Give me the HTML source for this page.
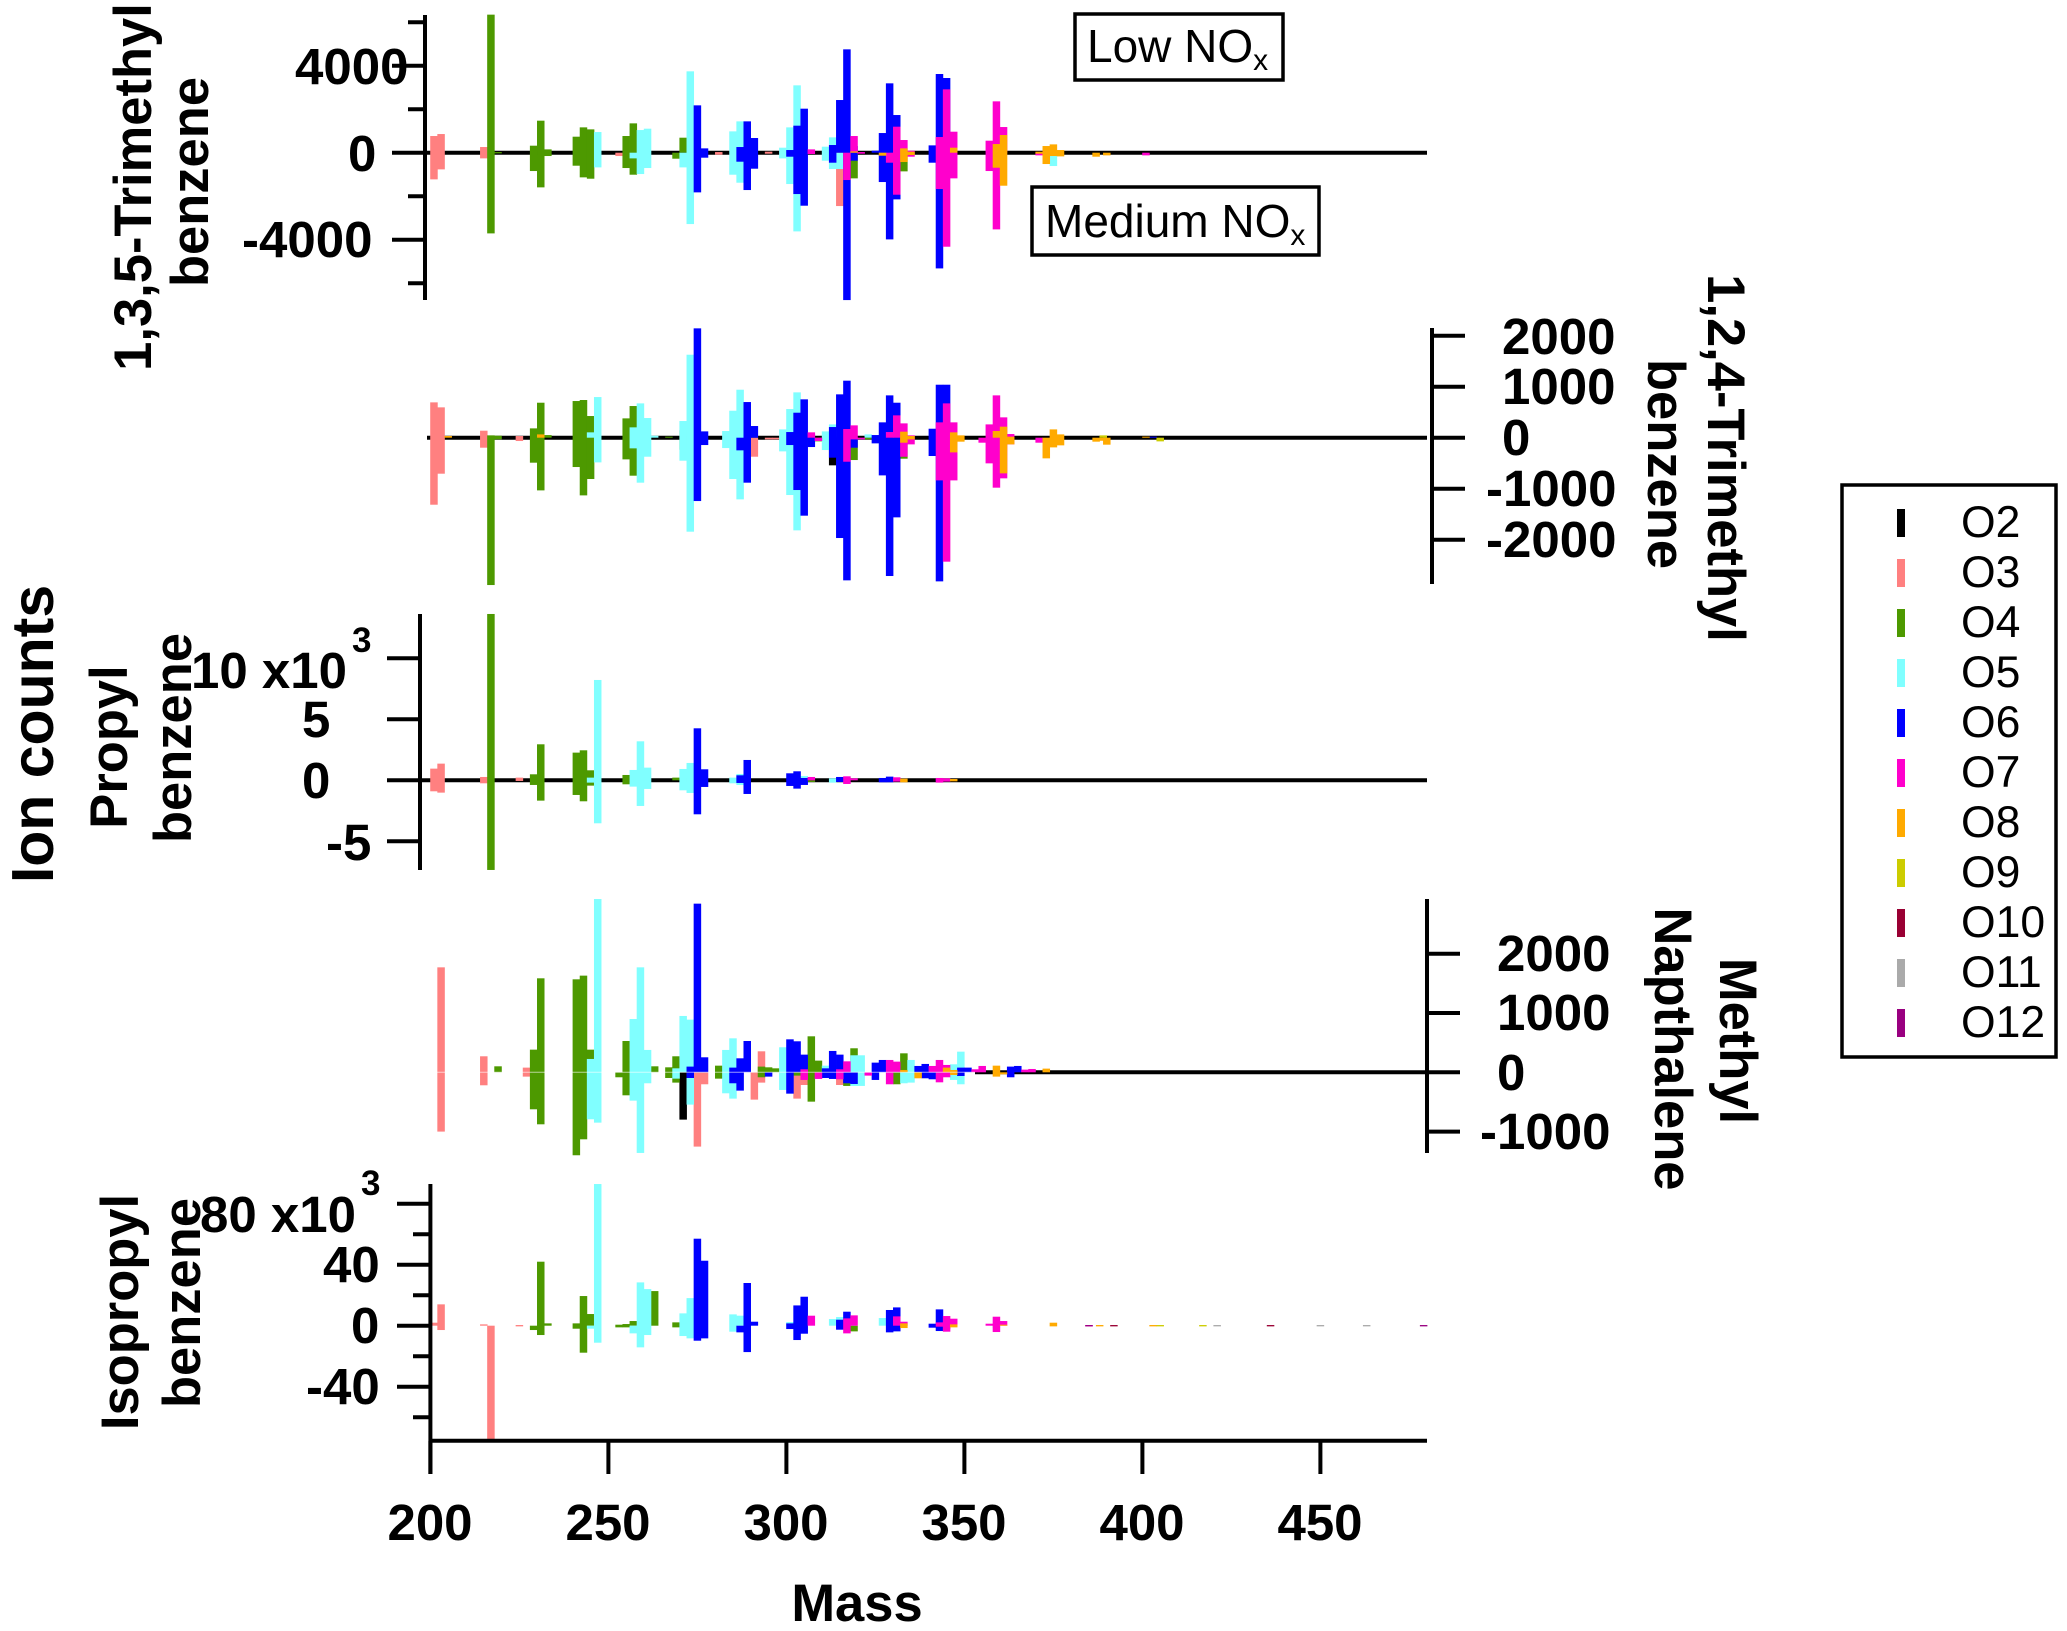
<!DOCTYPE html>
<html lang="en">
<head>
<meta charset="utf-8">
<title>Ion counts by mass</title>
<style>
html,body{margin:0;padding:0;background:#fff;}
svg{display:block;}
text{font-family:"Liberation Sans",sans-serif;fill:#000;}
.b{font-weight:bold;font-size:51px;}
.t{font-weight:bold;font-size:52.5px;}
.r{font-size:46px;}
</style>
</head>
<body>
<svg id="chart" xmlns="http://www.w3.org/2000/svg" width="2067" height="1631" viewBox="0 0 2067 1631">
<rect x="0" y="0" width="2067" height="1631" fill="#fff"/>
<g id="marks"></g>

<g>
<text class="b" x="295" y="84">4000</text>
<text class="b" x="348" y="171">0</text>
<text class="b" x="242" y="257">-4000</text>
<text class="t" text-anchor="middle" transform="translate(151,187) rotate(-90)">1,3,5-Trimethyl</text>
<text class="t" text-anchor="middle" transform="translate(208,182) rotate(-90)">benzene</text>
</g>
<g>
<text class="b" x="1502" y="354">2000</text>
<text class="b" x="1502" y="404">1000</text>
<text class="b" x="1502" y="455">0</text>
<text class="b" x="1486" y="506">-1000</text>
<text class="b" x="1486" y="557">-2000</text>
<text class="t" text-anchor="middle" transform="translate(1708,458) rotate(90)">1,2,4-Trimethyl</text>
<text class="t" text-anchor="middle" transform="translate(1648,464) rotate(90)">benzene</text>
</g>
<g>
<text class="b" x="191" y="688">10 x10</text>
<text font-weight="bold" font-size="35" x="352" y="652">3</text>
<text class="b" x="302" y="737">5</text>
<text class="b" x="302" y="798">0</text>
<text class="b" x="326" y="860">-5</text>
<text class="t" text-anchor="middle" transform="translate(127,747) rotate(-90)">Propyl</text>
<text class="t" text-anchor="middle" transform="translate(191,738) rotate(-90)">benzene</text>
</g>
<g>
<text class="b" x="1497" y="971">2000</text>
<text class="b" x="1497" y="1030">1000</text>
<text class="b" x="1497" y="1090">0</text>
<text class="b" x="1480" y="1149">-1000</text>
<text class="t" text-anchor="middle" transform="translate(1720,1041) rotate(90)">Methyl</text>
<text class="t" text-anchor="middle" transform="translate(1655,1049) rotate(90)">Napthalene</text>
</g>
<g>
<text class="b" x="200" y="1232">80 x10</text>
<text font-weight="bold" font-size="35" x="361" y="1195">3</text>
<text class="b" x="323" y="1282">40</text>
<text class="b" x="351" y="1343">0</text>
<text class="b" x="306" y="1404">-40</text>
<text class="t" text-anchor="middle" transform="translate(138,1312) rotate(-90)">Isopropyl</text>
<text class="t" text-anchor="middle" transform="translate(200,1303) rotate(-90)">benzene</text>
</g>

<text font-weight="bold" font-size="59" text-anchor="middle" transform="translate(53,734) rotate(-90)">Ion counts</text>
<text class="t" text-anchor="middle" x="857" y="1621">Mass</text>
<g>
<text class="b" text-anchor="middle" x="430" y="1540">200</text>
<text class="b" text-anchor="middle" x="608" y="1540">250</text>
<text class="b" text-anchor="middle" x="786" y="1540">300</text>
<text class="b" text-anchor="middle" x="964" y="1540">350</text>
<text class="b" text-anchor="middle" x="1142" y="1540">400</text>
<text class="b" text-anchor="middle" x="1320" y="1540">450</text>
</g>

<g>
<rect x="1075" y="14" width="208" height="66" fill="#fff" stroke="#000" stroke-width="3.5"/>
<text class="r" x="1087" y="62">Low NO<tspan font-size="30" dy="8">x</tspan></text>
</g>
<g>
<rect x="1032" y="187" width="287" height="68" fill="#fff" stroke="#000" stroke-width="3.5"/>
<text class="r" x="1045" y="237">Medium NO<tspan font-size="30" dy="8">x</tspan></text>
</g>

<g>
<rect x="1842" y="485" width="214" height="572" fill="#fff" stroke="#000" stroke-width="3.5"/>
<g id="legend-entries"></g>
</g>
</svg>

<script>
// Each row: [mass, low-NOx ion counts (drawn upward), medium-NOx ion counts (drawn downward)]
const seriesNames = ['O2','O3','O4','O5','O6','O7','O8','O9','O10','O11','O12'];
const seriesColors = ['#000000','#ff8080','#4d9900','#80ffff','#0000ff','#ff00cc','#ffaa00','#cccc00','#990033','#aaaaaa','#990080'];

// Panel 1: 1,3,5-Trimethylbenzene
const p1O3 = [[201,767,1226],[203,858,767],[215,261,261],[253,0,153],[281,30,92],[295,46,46],[315,0,2453]];
const p1O4 = [[217,6347,3710],[219,30,30],[229,322,843],[231,1472,1594],[233,153,153],[241,736,598],[243,1165,1134],[245,1073,1196],[255,767,705],[257,1349,1012],[269,0,276],[271,690,0],[287,199,215],[319,0,1180],[333,0,858]];
const p1O5 = [[247,950,675],[257,0,261],[259,1042,981],[261,1104,705],[271,0,675],[273,3741,3281],[285,981,1012],[287,1441,1380],[299,230,261],[301,1165,1441],[303,3097,3618],[311,276,368],[313,705,751],[315,0,751],[375,0,613]];
const p1O6 = [[275,2177,1824],[277,199,230],[287,261,414],[289,1441,1717],[291,675,736],[301,123,184],[303,1242,1901],[305,2024,2437],[313,353,460],[315,2422,0],[317,4752,6776],[319,307,368],[325,92,0],[327,904,1349],[329,3189,3986],[331,1732,2146],[341,337,460],[343,3618,5320],[345,3434,0]];
const p1O7 = [[307,153,61],[317,0,1257],[319,767,0],[321,30,46],[329,0,460],[331,1196,1932],[333,583,0],[335,92,184],[343,721,1671],[345,2913,4323],[347,966,1180],[357,552,843],[359,2361,3526],[361,1180,0],[371,0,123],[401,0,123]];
const p1O8 = [[319,61,0],[327,0,138],[333,199,429],[335,46,107],[347,230,0],[359,399,690],[361,813,1518],[371,46,46],[373,307,521],[375,383,153],[377,123,169],[387,0,184],[390,0,123]];

// Panel 2: 1,2,4-Trimethylbenzene
const p2O2 = [[313,0,542]];
const p2O3 = [[201,693,1314],[203,595,706],[215,137,196],[225,33,65],[291,0,373],[295,0,33],[297,0,33]];
const p2O4 = [[217,46,2889],[219,39,33],[229,183,490],[231,686,1033],[233,52,0],[241,719,575],[243,739,1131],[245,425,810],[255,379,425],[257,621,745],[267,20,0],[271,144,235],[309,0,72],[319,0,438],[323,0,33],[333,0,412]];
const p2O5 = [[245,105,0],[247,797,484],[257,203,209],[259,673,882],[261,386,373],[263,39,0],[271,327,451],[273,1627,1843],[283,131,203],[285,529,810],[287,941,1209],[299,163,268],[301,562,1124],[303,889,1817],[311,124,242],[313,261,0],[323,65,0]];
const p2O6 = [[275,2144,1242],[277,124,144],[287,0,248],[289,699,882],[291,229,0],[301,111,144],[303,490,1026],[305,752,1529],[307,65,183],[313,209,392],[315,850,1967],[317,1118,2797],[319,0,196],[325,52,111],[327,301,739],[329,830,2712],[331,686,1562],[341,176,359],[343,1039,2817],[345,1039,0],[403,20,0]];
const p2O7 = [[307,105,0],[309,0,65],[317,170,471],[319,242,33],[321,0,33],[329,111,0],[331,438,0],[333,281,373],[335,46,131],[343,301,837],[345,673,2431],[347,301,837],[355,0,98],[357,261,503],[359,830,980],[361,399,797],[363,72,131],[371,0,98]];
const p2O8 = [[205,33,0],[231,65,0],[333,118,98],[335,33,33],[347,105,288],[349,46,78],[359,131,0],[361,216,699],[363,20,131],[373,0,405],[375,163,190],[377,65,150],[387,0,78],[389,0,60],[390,0,137],[401,20,0]];
const p2O9 = [[389,46,0],[405,0,72]];

// Panel 3: Propylbenzene
const p3O3 = [[201,956,902],[203,1366,1011],[215,273,246],[225,219,55]];
const p3O4 = [[217,13633,7349],[229,492,382],[231,2951,1667],[241,2268,1202],[243,2459,1721],[245,820,437],[255,437,328],[269,219,0],[307,0,137]];
const p3O5 = [[245,219,191],[247,8223,3524],[257,847,519],[259,3196,2104],[261,1038,710],[271,929,820],[273,1421,1038],[285,219,246],[287,519,382],[305,355,0],[313,164,191]];
const p3O6 = [[275,4262,2787],[277,902,546],[287,410,219],[289,1667,1120],[301,574,464],[303,738,683],[305,191,382],[315,273,137],[327,191,164],[329,301,164],[343,82,55]];
const p3O7 = [[307,273,0],[317,328,301],[319,164,0],[331,246,109],[343,191,191],[345,164,109]];
const p3O8 = [[333,137,164],[347,109,82]];

// Panel 4: Methyl Napthalene
const p4O2 = [[271,0,798]];
const p4O3 = [[203,1770,1000],[215,270,219],[227,79,73],[275,0,1253],[277,0,202],[291,0,461],[293,354,174],[303,0,444],[305,0,214],[315,0,214]];
const p4O4 = [[219,101,0],[229,382,624],[231,1585,877],[241,1568,1399],[243,1630,1130],[245,382,0],[253,0,84],[255,528,388],[263,101,0],[267,84,96],[269,270,174],[281,112,107],[293,96,84],[295,84,0],[297,67,0],[303,0,56],[307,607,495],[309,197,101],[317,0,230],[319,405,0],[331,0,202],[333,320,0]];
const p4O5 = [[245,225,792],[247,2922,849],[257,899,478],[259,1770,1360],[261,377,185],[269,67,107],[271,950,0],[273,888,545],[283,377,354],[285,573,444],[299,422,298],[311,112,0],[313,169,0],[319,287,230],[321,287,230],[333,0,185],[335,208,174],[347,135,129],[349,348,202]];
const p4O6 = [[273,96,96],[275,2844,0],[277,253,0],[285,79,185],[287,236,309],[289,528,0],[295,0,73],[301,556,360],[303,523,0],[305,298,0],[311,67,96],[313,360,112],[315,298,0],[317,0,185],[319,0,197],[325,163,129],[327,208,0],[337,107,0],[339,141,101],[341,0,118],[349,79,62],[351,79,0],[363,96,84],[365,107,0]];
const p4O7 = [[305,51,129],[309,0,112],[315,51,118],[317,185,0],[323,0,56],[329,208,202],[331,180,0],[341,107,0],[343,208,169],[345,124,84],[353,51,0],[355,107,0],[367,45,0],[369,56,0]];
const p4O8 = [[333,39,0],[337,0,101],[345,79,0],[347,39,45],[359,112,73],[361,0,34],[373,62,0]];

// Panel 5: Isopropylbenzene
const p5O3 = [[201,1970,0],[203,14000,2840],[215,875,0],[217,0,75400],[225,437,437]];
const p5O4 = [[229,0,2840],[231,41970,6120],[233,1530,0],[241,1530,1970],[243,19450,17700],[245,7650,0],[253,656,1090],[255,1090,1090],[257,3060,0],[263,22700,0],[269,2190,1090],[319,0,3720],[345,0,1970]];
const p5O5 = [[245,0,1970],[247,92900,11150],[257,0,5030],[259,28400,14200],[261,24000,6120],[271,8090,6780],[273,18100,8310],[285,7430,3930],[287,6560,0],[301,2400,0],[313,4370,0],[315,5680,0],[327,5030,0],[359,0,1530]];
const p5O6 = [[275,57050,9840],[277,42600,8310],[287,0,4370],[289,28000,17300],[291,2620,0],[301,1530,2190],[303,13300,9400],[305,19000,5250],[315,3930,2620],[317,9180,0],[329,10300,4370],[331,12000,3720],[341,1310,1310],[343,10700,3500]];
const p5O7 = [[307,6560,0],[317,4810,5030],[319,6780,0],[331,6120,0],[333,2620,0],[343,2190,656],[345,6340,3930],[347,4590,0],[357,1310,0],[359,5900,4150],[361,3060,0],[385,437,437]];
const p5O8 = [[333,1530,1530],[347,875,1090],[361,656,0],[375,1970,437],[388,437,437],[403,437,437]];
const p5O9 = [[405,437,437],[417,437,437]];
const p5O10 = [[392,437,437],[436,437,437]];
const p5O11 = [[421,437,437],[450,437,437],[463,437,437]];
const p5O12 = [[385,437,437],[479,437,437]];

// Axis tick values
const xTicks = [200,250,300,350,400,450];
const p1MajorTicks = [-4000,0,4000];
const p1MinorTicks = [-6000,-2000,2000,6000];
const p2MajorTicks = [-2000,-1000,0,1000,2000];
const p3MajorTicks = [-5000,0,5000,10000];
const p4MajorTicks = [-1000,0,1000,2000];
const p5MajorTicks = [-40000,0,40000,80000];
const p5MinorTicks = [-60000,-20000,20000,60000];

// Axis functions
function xScale(m){ return 430.4 + (m - 200) * 3.56; }
function y1(v){ return 152.7 - v * 87 / 4000; }
function y2(v){ return 437.7 - v * 51 / 1000; }
function y3(v){ return 780.3 - v * 61 / 5000; }
function y4(v){ return 1072.3 - v * 59.3 / 1000; }
function y5(v){ return 1325.7 - v * 61 / 40000; }

const NS = 'http://www.w3.org/2000/svg';
const marks = document.getElementById('marks');

function drawLine(x1, yA, x2, yB, w, name, stroke){
  const l = document.createElementNS(NS, 'line');
  l.setAttribute('x1', x1);
  l.setAttribute('y1', yA);
  l.setAttribute('x2', x2);
  l.setAttribute('y2', yB);
  l.setAttribute('stroke', stroke || '#000');
  l.setAttribute('stroke-width', w);
  
  
  marks.appendChild(l);
}

function drawBars(rows, yFn, seriesName, panelName){
  const color = seriesColors[seriesNames.indexOf(seriesName)];
  const barWidth = 7.5;
  rows.forEach(function(row){
    const top = yFn(row[1]);
    const bottom = yFn(-row[2]);
    const r = document.createElementNS(NS, 'rect');
    r.setAttribute('x', xScale(row[0]) - barWidth / 2);
    r.setAttribute('y', top);
    r.setAttribute('width', barWidth);
    r.setAttribute('height', Math.max(bottom - top, 0.5));
    r.setAttribute('fill', color);
    
    
    marks.appendChild(r);
  });
}

// Zero lines
drawLine(425, y1(0), 1427, y1(0), 4, 'zero-line-panel-1');
drawLine(427, y2(0), 1427, y2(0), 4, 'zero-line-panel-2');
drawLine(420, y3(0), 1427, y3(0), 4, 'zero-line-panel-3');
drawLine(975, y4(0), 1427, y4(0), 4, 'zero-line-panel-4');

// Bars, in draw order O2 to O12
drawBars(p1O3, y1, 'O3', 'p1');
drawBars(p1O4, y1, 'O4', 'p1');
drawBars(p1O5, y1, 'O5', 'p1');
drawBars(p1O6, y1, 'O6', 'p1');
drawBars(p1O7, y1, 'O7', 'p1');
drawBars(p1O8, y1, 'O8', 'p1');

drawBars(p2O2, y2, 'O2', 'p2');
drawBars(p2O3, y2, 'O3', 'p2');
drawBars(p2O4, y2, 'O4', 'p2');
drawBars(p2O5, y2, 'O5', 'p2');
drawBars(p2O6, y2, 'O6', 'p2');
drawBars(p2O7, y2, 'O7', 'p2');
drawBars(p2O8, y2, 'O8', 'p2');
drawBars(p2O9, y2, 'O9', 'p2');

drawBars(p3O3, y3, 'O3', 'p3');
drawBars(p3O4, y3, 'O4', 'p3');
drawBars(p3O5, y3, 'O5', 'p3');
drawBars(p3O6, y3, 'O6', 'p3');
drawBars(p3O7, y3, 'O7', 'p3');
drawBars(p3O8, y3, 'O8', 'p3');

drawBars(p4O2, y4, 'O2', 'p4');
drawBars(p4O3, y4, 'O3', 'p4');
drawBars(p4O4, y4, 'O4', 'p4');
drawBars(p4O5, y4, 'O5', 'p4');
drawBars(p4O6, y4, 'O6', 'p4');
drawBars(p4O7, y4, 'O7', 'p4');
drawBars(p4O8, y4, 'O8', 'p4');

drawBars(p5O3, y5, 'O3', 'p5');
drawBars(p5O4, y5, 'O4', 'p5');
drawBars(p5O5, y5, 'O5', 'p5');
drawBars(p5O6, y5, 'O6', 'p5');
drawBars(p5O7, y5, 'O7', 'p5');
drawBars(p5O8, y5, 'O8', 'p5');
drawBars(p5O9, y5, 'O9', 'p5');
drawBars(p5O10, y5, 'O10', 'p5');
drawBars(p5O11, y5, 'O11', 'p5');
drawBars(p5O12, y5, 'O12', 'p5');

// Pale hairline through panel 4 bars at zero
drawLine(433, y4(0), 975, y4(0), 1, 'zero-hairline-panel-4', 'rgba(255,255,255,0.6)');

// Axes
drawLine(425, 15, 425, 300, 4, 'y-axis-panel-1');
p1MajorTicks.forEach(function(v){ drawLine(392, y1(v), 425, y1(v), 4, 'y-tick-major'); });
p1MinorTicks.forEach(function(v){ drawLine(408, y1(v), 425, y1(v), 4, 'y-tick-minor'); });

drawLine(1432, 328, 1432, 584, 4, 'y-axis-panel-2');
p2MajorTicks.forEach(function(v){ drawLine(1432, y2(v), 1465, y2(v), 4, 'y-tick-major'); });

drawLine(420, 614, 420, 870, 4, 'y-axis-panel-3');
p3MajorTicks.forEach(function(v){ drawLine(387, y3(v), 420, y3(v), 4, 'y-tick-major'); });

drawLine(1427, 899, 1427, 1153, 4, 'y-axis-panel-4');
p4MajorTicks.forEach(function(v){ drawLine(1427, y4(v), 1460, y4(v), 4, 'y-tick-major'); });

drawLine(430.4, 1184, 430.4, 1474, 4, 'y-axis-panel-5');
p5MajorTicks.forEach(function(v){ drawLine(397, y5(v), 430, y5(v), 4, 'y-tick-major'); });
p5MinorTicks.forEach(function(v){ drawLine(413, y5(v), 430, y5(v), 4, 'y-tick-minor'); });

drawLine(430, 1440.7, 1427, 1440.7, 4, 'x-axis');
xTicks.forEach(function(m){ drawLine(xScale(m), 1441, xScale(m), 1474, 4, 'x-tick'); });

// Legend
const legendEntries = document.getElementById('legend-entries');
seriesNames.forEach(function(name, i){
  const cy = 523 + i * 50;
  const s = document.createElementNS(NS, 'rect');
  s.setAttribute('x', 1897);
  s.setAttribute('y', cy - 14);
  s.setAttribute('width', 8);
  s.setAttribute('height', 28);
  s.setAttribute('fill', seriesColors[i]);
  
  
  legendEntries.appendChild(s);
  const t = document.createElementNS(NS, 'text');
  t.setAttribute('x', 1961);
  t.setAttribute('y', cy + 14);
  t.setAttribute('font-size', '44.5');
  t.textContent = name;
  
  
  legendEntries.appendChild(t);
});
</script>
</body>
</html>
